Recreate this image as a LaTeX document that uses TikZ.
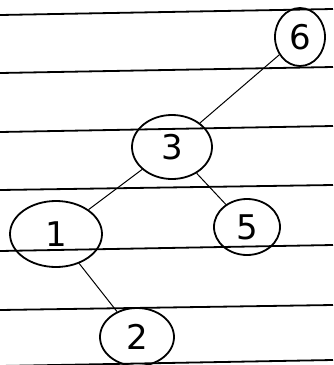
\documentclass[tikz,border=0pt]{standalone}
\usepackage{fontspec}
\setmainfont{DejaVu Sans}
\usetikzlibrary{shapes.geometric}
\begin{document}
\begin{tikzpicture}[x=1pt,y=-1pt,
  rule/.style={line width=1.8pt,black},
  tnode/.style={ellipse,draw,line width=1.8pt,inner sep=0pt,font=\fontsize{34}{34}\selectfont},
  edge/.style={line width=1pt}]
\useasboundingbox (0,0) rectangle (333,365);
\fill[white] (0,0) rectangle (333,365);
% ruled lines
\draw[rule] (0,15) -- (333,9);
\draw[rule] (0,73) -- (333,67);
\draw[rule] (0,132) -- (333,126);
\draw[rule] (0,190) -- (333,185);
\draw[rule] (0,251) -- (333,245);
\draw[rule] (0,310) -- (333,305);
\draw[rule] (0,366) -- (333,360);
% nodes
\node[tnode,minimum width=50pt,minimum height=58pt] (n6) at (300,37) {6};
\node[tnode,minimum width=80pt,minimum height=64pt] (n3) at (172,147) {3};
\node[tnode,minimum width=92pt,minimum height=66pt] (n1) at (56,234) {1};
\node[tnode,minimum width=66pt,minimum height=56pt] (n5) at (247,227) {5};
\node[tnode,minimum width=74pt,minimum height=58pt] (n2) at (137,337) {2};
% edges
\draw[edge] (n6) -- (n3);
\draw[edge] (n3) -- (n1);
\draw[edge] (n3) -- (n5);
\draw[edge] (n1) -- (n2);
\end{tikzpicture}
\end{document}
